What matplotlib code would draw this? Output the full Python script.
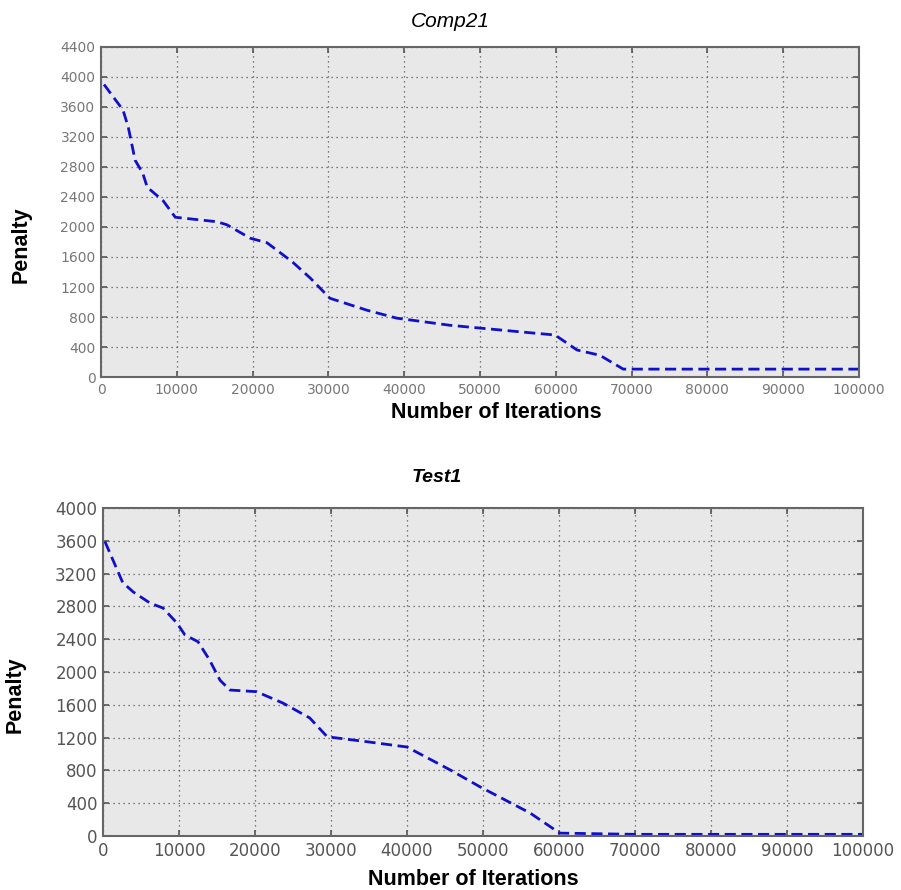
import matplotlib
matplotlib.use("Agg")
import matplotlib.pyplot as plt

# ---- data ----
comp21_iter = [400, 2900, 3600, 4500, 5500, 6100, 8200, 9800, 15300, 16600, 19700,
               21900, 24000, 25300, 27600, 30200, 35100, 39000, 46000, 56600, 59900,
               62800, 65800, 68900, 80000, 90000, 100000]
comp21_pen = [3900, 3560, 3330, 2890, 2720, 2530, 2350, 2130, 2070, 2030, 1850,
              1790, 1630, 1530, 1320, 1050, 890, 785, 690, 590, 560,
              360, 290, 105, 105, 105, 105]

test1_iter = [260, 2600, 4000, 6200, 7900, 9700, 10800, 12500, 14000, 15400, 16700,
              20200, 23700, 27200, 29500, 34700, 40000, 45700, 49600, 56200, 60100,
              70000, 80000, 90000, 100000]
test1_pen = [3590, 3090, 2975, 2840, 2780, 2600, 2450, 2370, 2150, 1900, 1780,
             1760, 1620, 1440, 1210, 1150, 1085, 805, 600, 280, 35,
             20, 20, 20, 20]

x_ticks = [0, 10000, 20000, 30000, 40000, 50000, 60000, 70000, 80000, 90000, 100000]
y_ticks_top = [0, 400, 800, 1200, 1600, 2000, 2400, 2800, 3200, 3600, 4000, 4400]
y_ticks_bottom = [0, 400, 800, 1200, 1600, 2000, 2400, 2800, 3200, 3600, 4000]

plt.rcParams['font.family'] = ['Liberation Sans', 'DejaVu Sans']

fig = plt.figure(figsize=(9.01, 8.90), dpi=100)

def style(ax, yticks, ymax, tickcolor, ticksize):
    ax.set_facecolor('#e8e8e8')
    ax.set_xlim(0, 100000)
    ax.set_ylim(0, ymax)
    ax.set_xticks(x_ticks)
    ax.set_yticks(yticks)
    ax.set_xticklabels([str(v) for v in x_ticks])
    ax.set_yticklabels([str(v) for v in yticks])
    for lab in ax.get_xticklabels() + ax.get_yticklabels():
        lab.set_family('DejaVu Sans')
    ax.grid(True, linestyle=(0, (1, 3)), color='#555555', linewidth=0.9)
    ax.tick_params(direction='in', top=True, right=True, length=4, width=1.2,
                   colors='#555555', labelsize=ticksize, labelcolor=tickcolor, pad=4)
    for s in ax.spines.values():
        s.set_color('#666666')
        s.set_linewidth(1.5)

ax1 = fig.add_axes([0.1121, 0.5764, 0.8413, 0.3708])
ax1.plot(comp21_iter, comp21_pen, linestyle=(0, (4, 2)), color='#1010c8', linewidth=2)
style(ax1, y_ticks_top, 4400, '#777777', 10)
ax1.set_xlabel('Number of Iterations', fontsize=15.5, fontweight='bold')
ax1.xaxis.set_label_coords(0.522, -0.075)
ax1.set_ylabel('Penalty', fontsize=15.5, fontweight='bold')
ax1.yaxis.set_label_coords(-0.091, 0.40)
fig.text(0.4994, 0.976, 'Comp21', fontsize=15, style='italic', ha='center', va='center')

ax2 = fig.add_axes([0.1143, 0.0607, 0.8435, 0.3685])
ax2.plot(test1_iter, test1_pen, linestyle=(0, (4, 2)), color='#1010c8', linewidth=2)
style(ax2, y_ticks_bottom, 4000, '#555555', 12)
ax2.set_xlabel('Number of Iterations', fontsize=15.5, fontweight='bold')
ax2.xaxis.set_label_coords(0.487, -0.100)
ax2.set_ylabel('Penalty', fontsize=15.5, fontweight='bold')
ax2.yaxis.set_label_coords(-0.102, 0.43)
fig.text(0.485, 0.464, 'Test1', fontsize=14, style='italic', fontweight='bold',
         ha='center', va='center')

fig.savefig('out.png', dpi=100)
